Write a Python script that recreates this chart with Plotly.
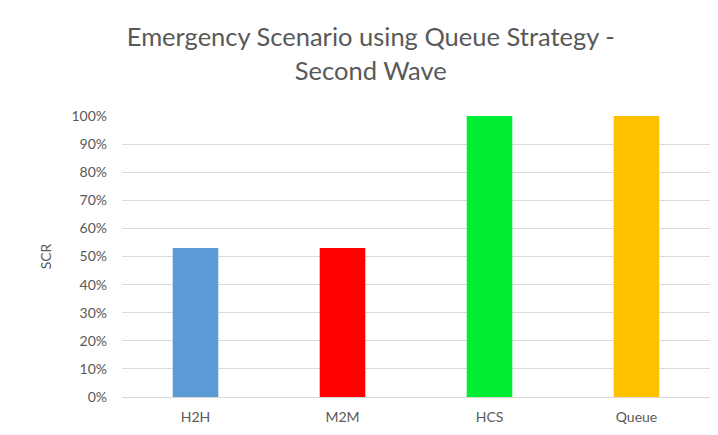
import plotly.graph_objects as go

categories = ["H2H", "M2M", "HCS", "Queue"]
scr_values = [0.53, 0.53, 1.0, 1.0]
bar_colors = ["#5B9BD5", "#FF0000", "#00EE33", "#FFC000"]
y_tick_vals = [i / 10 for i in range(11)]
y_tick_text = [f"{i*10}%" for i in range(11)]

fig = go.Figure(
    go.Bar(
        x=categories,
        y=scr_values,
        marker=dict(color=bar_colors, line=dict(width=0)),
        width=0.31,
    )
)

fig.update_layout(
    width=710,
    height=427,
    margin=dict(l=114, r=8, t=108, b=38),
    paper_bgcolor="white",
    plot_bgcolor="white",
    showlegend=False,
    title=dict(
        text="Emergency Scenario using Queue Strategy -<br>Second Wave",
        x=0.511,
        xanchor="center",
        y=0.91,
        yanchor="top",
        font=dict(family="Lato", size=25.5, color="#595959"),
    ),
    font=dict(family="Lato", size=13, color="#595959"),
    xaxis=dict(
        showgrid=False,
        showline=True,
        linecolor="#D9D9D9",
        linewidth=1,
        ticks="",
        ticklabelstandoff=7,
        tickfont=dict(size=14, color="#595959"),
    ),
    yaxis=dict(
        range=[0, 1],
        tickvals=y_tick_vals,
        ticktext=y_tick_text,
        showgrid=True,
        gridcolor="#D9D9D9",
        gridwidth=1,
        zeroline=False,
        showline=False,
        ticks="",
        ticklabelstandoff=14,
        tickfont=dict(size=14, color="#595959"),
        title=dict(text="SCR", font=dict(size=14, color="#595959"), standoff=16),
    ),
)

fig.write_html("out.html")
